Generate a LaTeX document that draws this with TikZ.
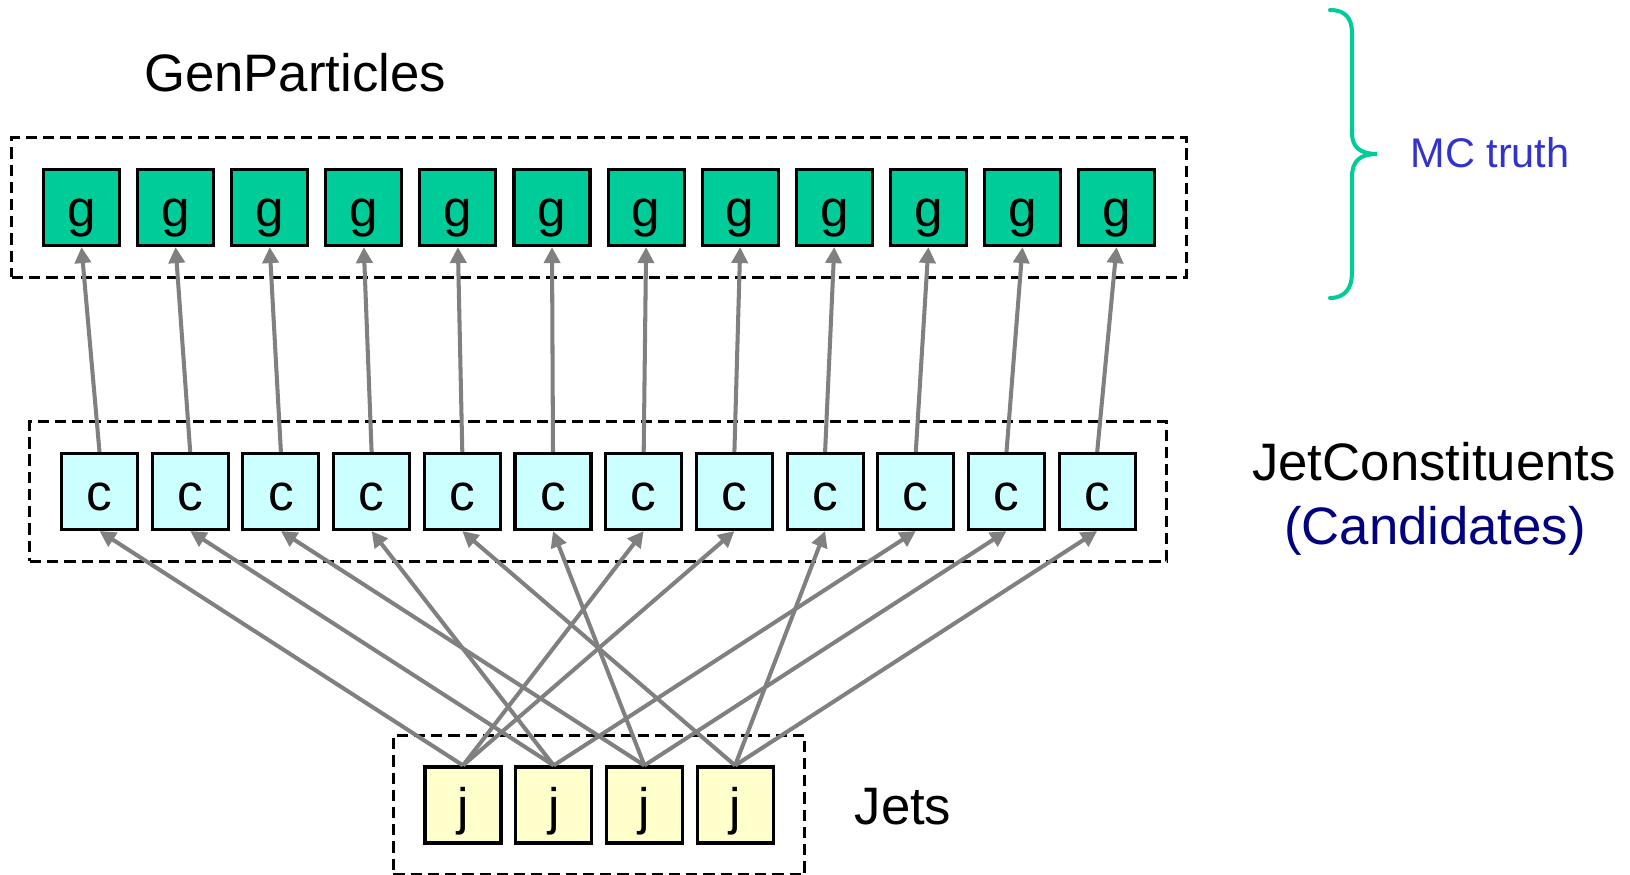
\documentclass[tikz,border=0pt]{standalone}
\usepackage{fontspec}
\setmainfont{Liberation Sans}
\usetikzlibrary{arrows.meta,fit}

\definecolor{genGreen}{HTML}{00CC99}
\definecolor{candCyan}{HTML}{CCFFFF}
\definecolor{jetYellow}{HTML}{FFFFCC}
\definecolor{truthBlue}{HTML}{3333CC}
\definecolor{candNavy}{HTML}{000080}

\tikzset{
  obj/.style={draw=black, line width=0.9pt, minimum size=0.76cm, inner sep=0pt,
    text height=0.52cm, text depth=0.13cm, font=\fontsize{14.6}{17}\selectfont},
  gen/.style={obj, fill=genGreen},
  cand/.style={obj, fill=candCyan},
  jet/.style={obj, fill=jetYellow},
  groupbox/.style={draw, line width=0.85pt, dash pattern=on 3.2pt off 1.7pt, inner sep=0.3cm},
  link/.style={draw=gray, line width=1.15pt, -{Triangle[length=0.16cm,width=0.16cm]}},
  rowname/.style={font=\fontsize{15}{18}\selectfont, anchor=base}
}

\begin{document}
\begin{tikzpicture}
  \useasboundingbox (0,0) rectangle (16.3,8.74);

  % the three rows of objects
  \foreach \i in {1,...,12} {
    \node[gen] (g\i) at ({0.815+0.941*(\i-1)}, 6.665) {g};
    \node[cand] (c\i) at ({0.995+0.907*(\i-1)}, 3.825) {c};
  }
  \foreach \i in {1,...,4}
    \node[jet] (j\i) at ({4.63+0.907*(\i-1)}, 0.69) {j};

  \node[groupbox, fit=(g1) (g12)] (genbox) {};
  \node[groupbox, fit=(c1) (c12)] (candbox) {};
  \node[groupbox, fit=(j1) (j4)] (jetbox) {};

  % references
  \foreach \i in {1,...,12}
    \draw[link] (c\i.north) -- (g\i.south);
  \foreach \c/\j in {1/1,2/2,3/3,4/2,5/4,6/3,7/1,8/1,9/4,10/2,11/3,12/4}
    \draw[link] (j\j.north) -- (c\c.south);

  \node[rowname] (genname) at (2.95,7.82) {GenParticles};
  \node[rowname] (candname) at (14.34,3.94) {JetConstituents};
  \node[rowname, text=candNavy] (candsub) at (14.35,3.29) {(Candidates)};
  \node[rowname] (jetname) at (9.03,0.50) {Jets};

  \draw[genGreen, line width=1.15pt, line cap=round]
    (13.30,8.64) .. controls (13.45,8.64) and (13.52,8.56) .. (13.52,8.41)
    -- (13.52,7.41) .. controls (13.52,7.27) and (13.60,7.20) .. (13.77,7.20)
    .. controls (13.60,7.20) and (13.52,7.13) .. (13.52,6.97)
    -- (13.52,6.01) .. controls (13.52,5.86) and (13.45,5.76) .. (13.30,5.76);
  \node[font=\fontsize{11.8}{14}\selectfont, text=truthBlue, anchor=base] (truth) at (14.90,7.06) {MC truth};
\end{tikzpicture}
\end{document}
